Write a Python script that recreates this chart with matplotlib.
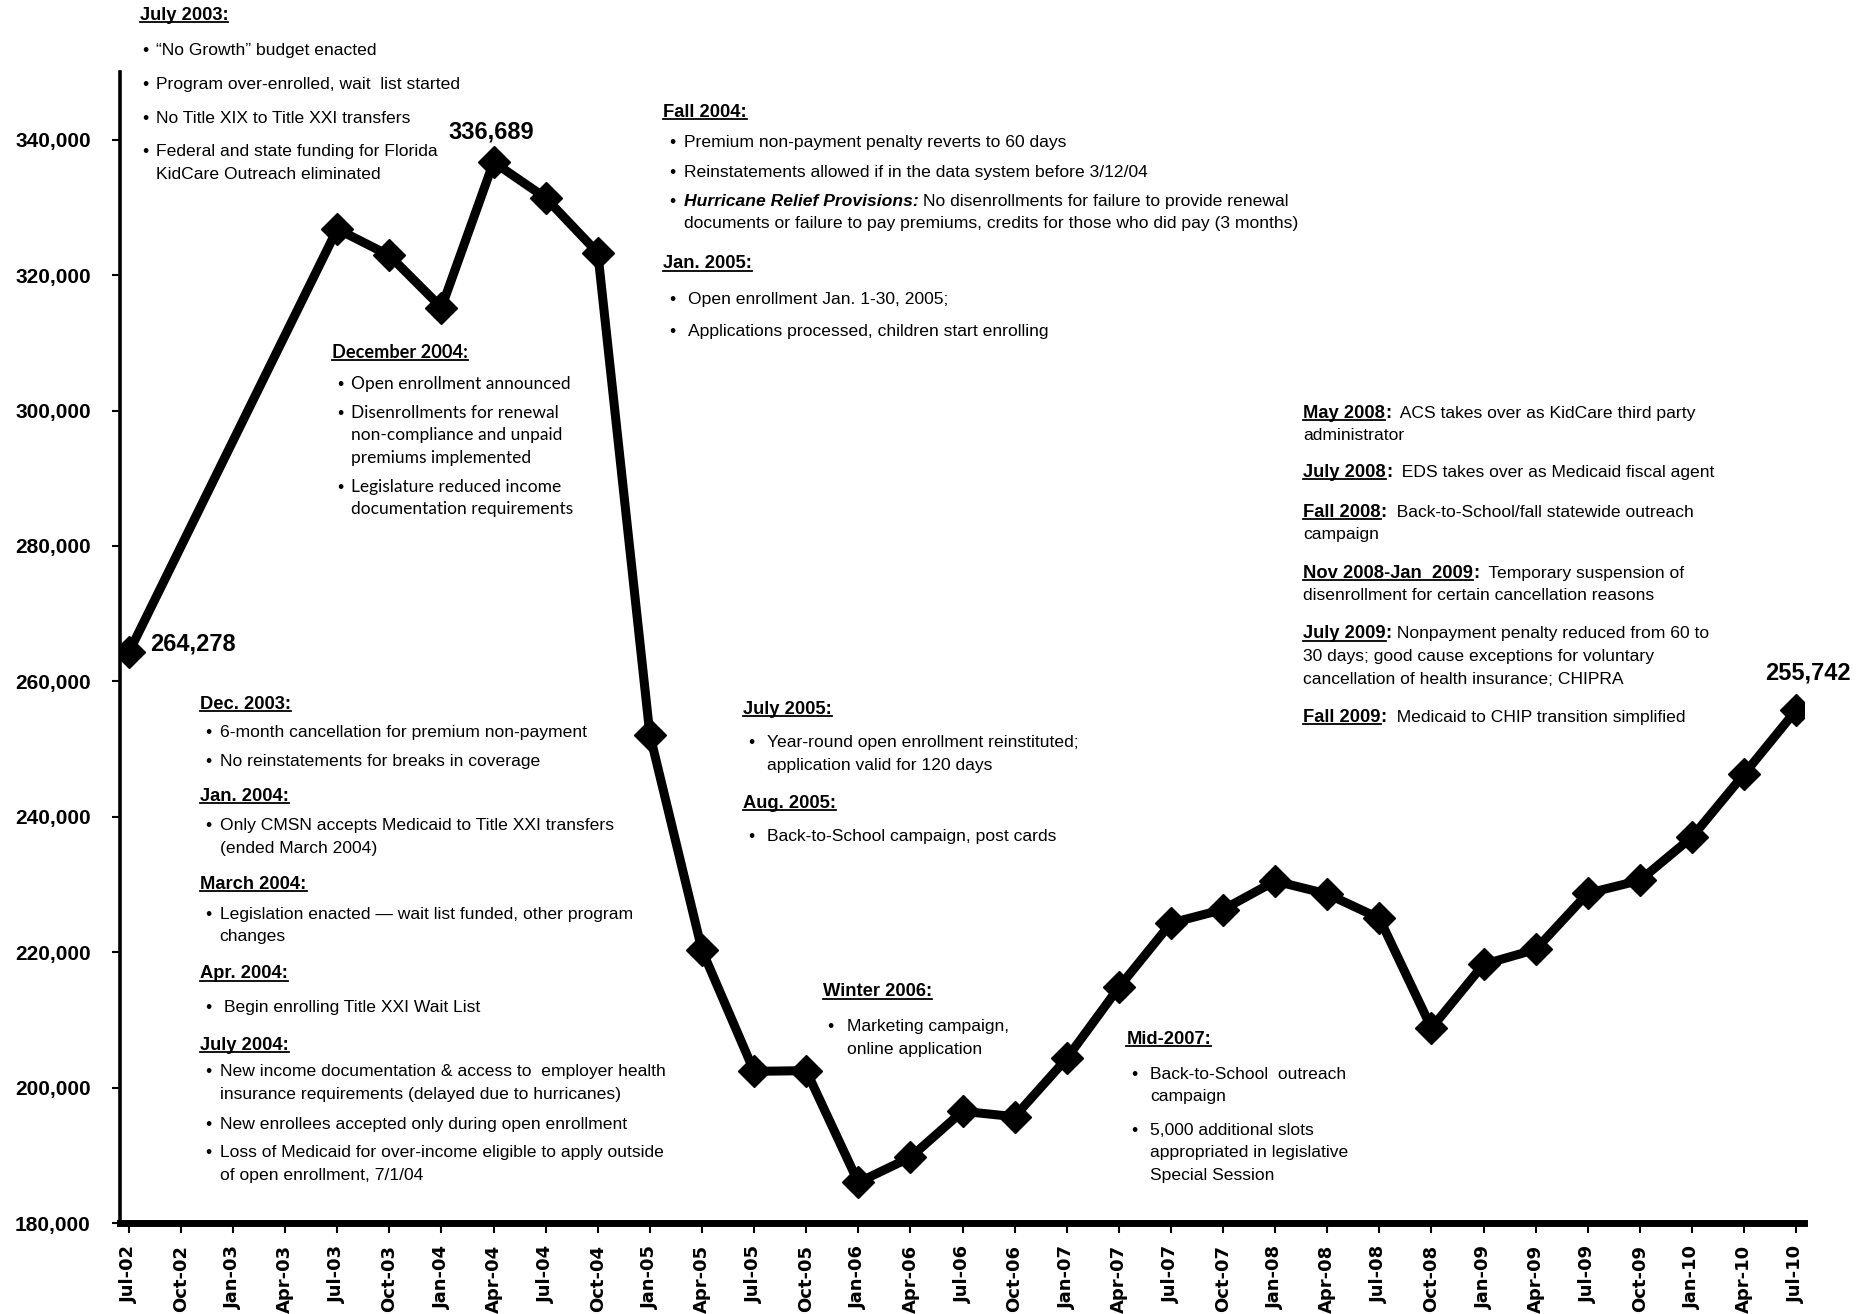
import pandas as pd
import matplotlib
matplotlib.use('Agg')
import matplotlib.pyplot as plt
from matplotlib import font_manager
from matplotlib.lines import Line2D

# Datos: inscripción trimestral (Oct-02 a Apr-03 sin dato)
trimestres = ['Jul-02', 'Oct-02', 'Jan-03', 'Apr-03', 'Jul-03', 'Oct-03', 'Jan-04', 'Apr-04',
              'Jul-04', 'Oct-04', 'Jan-05', 'Apr-05', 'Jul-05', 'Oct-05', 'Jan-06', 'Apr-06',
              'Jul-06', 'Oct-06', 'Jan-07', 'Apr-07', 'Jul-07', 'Oct-07', 'Jan-08', 'Apr-08',
              'Jul-08', 'Oct-08', 'Jan-09', 'Apr-09', 'Jul-09', 'Oct-09', 'Jan-10', 'Apr-10', 'Jul-10']
inscritos = [264278, None, None, None, 326800, 322900, 315200, 336689,
             331400, 323300, 252100, 220300, 202400, 202500, 186000, 189700,
             196500, 195700, 204300, 214800, 224300, 226300, 230500, 228600,
             225000, 208800, 218200, 220400, 228700, 230600, 237000, 246300, 255742]
etiquetados = ['Jul-02', 'Apr-04', 'Jul-10']
y_ticks = list(range(180000, 340001, 20000))

serie = pd.Series(inscritos, index=range(len(trimestres)), dtype=float).dropna()

nombres = {f.name for f in font_manager.fontManager.ttflist}
NARROW = 'Liberation Sans Narrow' if 'Liberation Sans Narrow' in nombres else 'Liberation Sans'
WIDE = 'Lato' if 'Lato' in nombres else 'Liberation Sans'
TAM = 12.6

W, H = 1871, 1314
S = W / 1568.0
fig = plt.figure(figsize=(W / 100, H / 100), dpi=100)
ax = fig.add_axes([120 / W, 1 - 1223 / H, (1804 - 120) / W, (1223 - 72) / H])

ax.plot(serie.index, serie.values, color='black', lw=6.5, marker='D', markersize=16,
        solid_joinstyle='miter', zorder=3)

for q in etiquetados:
    i = trimestres.index(q)
    v = inscritos[i]
    if q == 'Jul-02':
        off, ha = (21, 8), 'left'
    elif q == 'Apr-04':
        off, ha = (-2, 30), 'center'
    else:
        off, ha = (12, 37), 'center'
    ax.annotate(f'{v:,}', (i, v), xytext=off, textcoords='offset pixels', ha=ha, va='center',
                fontsize=17, fontweight='bold', family='Liberation Sans')

ax.set_xlim(-0.17, len(trimestres) - 1 + 0.15)
ax.set_ylim(180000, 350000)
ax.set_xticks(range(len(trimestres)))
ax.set_xticklabels(trimestres, rotation=90, fontsize=13, fontweight='bold', family='DejaVu Sans')
ax.set_yticks(y_ticks)
ax.set_yticklabels([f'{v:,}' for v in y_ticks], fontsize=15, fontweight='bold', family='Liberation Sans')
ax.tick_params(axis='y', length=6, width=1.5, pad=15)
ax.tick_params(axis='x', length=7, width=1.5, pad=9)
ax.spines['top'].set_visible(False)
ax.spines['right'].set_visible(False)
ax.spines['left'].set_linewidth(2.6)
ax.spines['bottom'].set_linewidth(5)

renderer = fig.canvas.get_renderer()


def put(x, y, s, size=TAM, weight='normal', style='normal', family=None, underline=False):
    # x, y en pixeles de la imagen de referencia reducida (centro de linea)
    fx = x * S / W
    fy = 1 - (y + 5) * S / H
    t = fig.text(fx, fy, s, fontsize=size, fontweight=weight, fontstyle=style,
                 family=family or NARROW, va='baseline', ha='left')
    bb = t.get_window_extent(renderer)
    if underline:
        yb = fy - 2.2 / H
        fig.add_artist(Line2D([bb.x0 / W, bb.x1 / W], [yb, yb], color='black', lw=1.3,
                              transform=fig.transFigure))
    return bb.x1 * 1568.0 / W


def bloque(xh, xb, xt, items, family=None, size=TAM):
    for kind, y, s in items:
        if kind == 'h':
            put(xh, y, s, size=size + 0.6, weight='bold', family=family, underline=True)
        elif kind == 'b':
            put(xb, y, '\u2022', size=TAM)
            put(xt, y, s, size=size, family=family)
        else:
            put(xt, y, s, size=size, family=family)


bloque(117, 119, 131, [
    ('h', 12, 'July 2003:'),
    ('b', 41, '\u201cNo Growth\u201d budget enacted'),
    ('b', 70, 'Program over-enrolled, wait  list started'),
    ('b', 98, 'No Title XIX to Title XXI transfers'),
    ('b', 126, 'Federal and state funding for Florida'),
    ('c', 145, 'KidCare Outreach eliminated'),
])

bloque(556, 561, 573, [
    ('h', 93, 'Fall 2004:'),
    ('b', 118, 'Premium non-payment penalty reverts to 60 days'),
    ('b', 143, 'Reinstatements allowed if in the data system before 3/12/04'),
    ('c', 186, 'documents or failure to pay premiums, credits for those who did pay (3 months)'),
    ('h', 220, 'Jan. 2005:'),
])
put(561, 168, '\u2022')
xe = put(573, 168, 'Hurricane Relief Provisions:', weight='bold', style='italic')
put(xe + 4, 168, 'No disenrollments for failure to provide renewal')
bloque(556, 561, 577, [
    ('b', 250, 'Open enrollment Jan. 1-30, 2005;'),
    ('b', 277, 'Applications processed, children start enrolling'),
])

bloque(278, 283, 294, [
    ('h', 295, 'December 2004:'),
    ('b', 321, 'Open enrollment announced'),
    ('b', 345, 'Disenrollments for renewal'),
    ('c', 364, 'non-compliance and unpaid'),
    ('c', 383, 'premiums implemented'),
    ('b', 407, 'Legislature reduced income'),
    ('c', 426, 'documentation requirements'),
], family=WIDE, size=12.5)

bloque(168, 172, 184, [
    ('h', 589, 'Dec. 2003:'),
    ('b', 613, '6-month cancellation for premium non-payment'),
    ('b', 637, 'No reinstatements for breaks in coverage'),
    ('h', 666, 'Jan. 2004:'),
    ('b', 691, 'Only CMSN accepts Medicaid to Title XXI transfers'),
    ('c', 710, '(ended March 2004)'),
    ('h', 740, 'March 2004:'),
    ('b', 765, 'Legislation enacted \u2014 wait list funded, other program'),
    ('c', 784, 'changes'),
    ('h', 815, 'Apr. 2004:'),
    ('h', 875, 'July 2004:'),
    ('b', 897, 'New income documentation & access to  employer health'),
    ('c', 916, 'insurance requirements (delayed due to hurricanes)'),
    ('b', 941, 'New enrollees accepted only during open enrollment'),
    ('b', 965, 'Loss of Medicaid for over-income eligible to apply outside'),
    ('c', 984, 'of open enrollment, 7/1/04'),
])
bloque(168, 172, 188, [('b', 843, 'Begin enrolling Title XXI Wait List')])

bloque(623, 627, 643, [
    ('h', 593, 'July 2005:'),
    ('b', 621, 'Year-round open enrollment reinstituted;'),
    ('c', 640, 'application valid for 120 days'),
    ('h', 672, 'Aug. 2005:'),
    ('b', 700, 'Back-to-School campaign, post cards'),
])

bloque(690, 693, 710, [
    ('h', 830, 'Winter 2006:'),
    ('b', 859, 'Marketing campaign,'),
    ('c', 878, 'online application'),
])

bloque(944, 948, 964, [
    ('h', 870, 'Mid-2007:'),
    ('b', 899, 'Back-to-School  outreach'),
    ('c', 918, 'campaign'),
    ('b', 946, '5,000 additional slots'),
    ('c', 965, 'appropriated in legislative'),
    ('c', 984, 'Special Session'),
])

derecha = [
    (345, 'May 2008', '  ACS takes over as KidCare third party', ['administrator']),
    (395, 'July 2008', '  EDS takes over as Medicaid fiscal agent', []),
    (428, 'Fall 2008', '  Back-to-School/fall statewide outreach', ['campaign']),
    (479, 'Nov 2008-Jan  2009', '  Temporary suspension of',
     ['disenrollment for certain cancellation reasons']),
    (530, 'July 2009', ' Nonpayment penalty reduced from 60 to',
     ['30 days; good cause exceptions for voluntary', 'cancellation of health insurance; CHIPRA']),
    (600, 'Fall 2009', '  Medicaid to CHIP transition simplified', []),
]
for y, fecha, texto, resto in derecha:
    x1 = put(1092, y, fecha, size=TAM + 0.6, weight='bold', underline=True)
    x2 = put(x1, y, ':', size=TAM + 0.6, weight='bold')
    put(x2, y, texto)
    for k, linea in enumerate(resto):
        put(1092, y + 19 * (k + 1), linea)

plt.savefig('out.png', dpi=100)
